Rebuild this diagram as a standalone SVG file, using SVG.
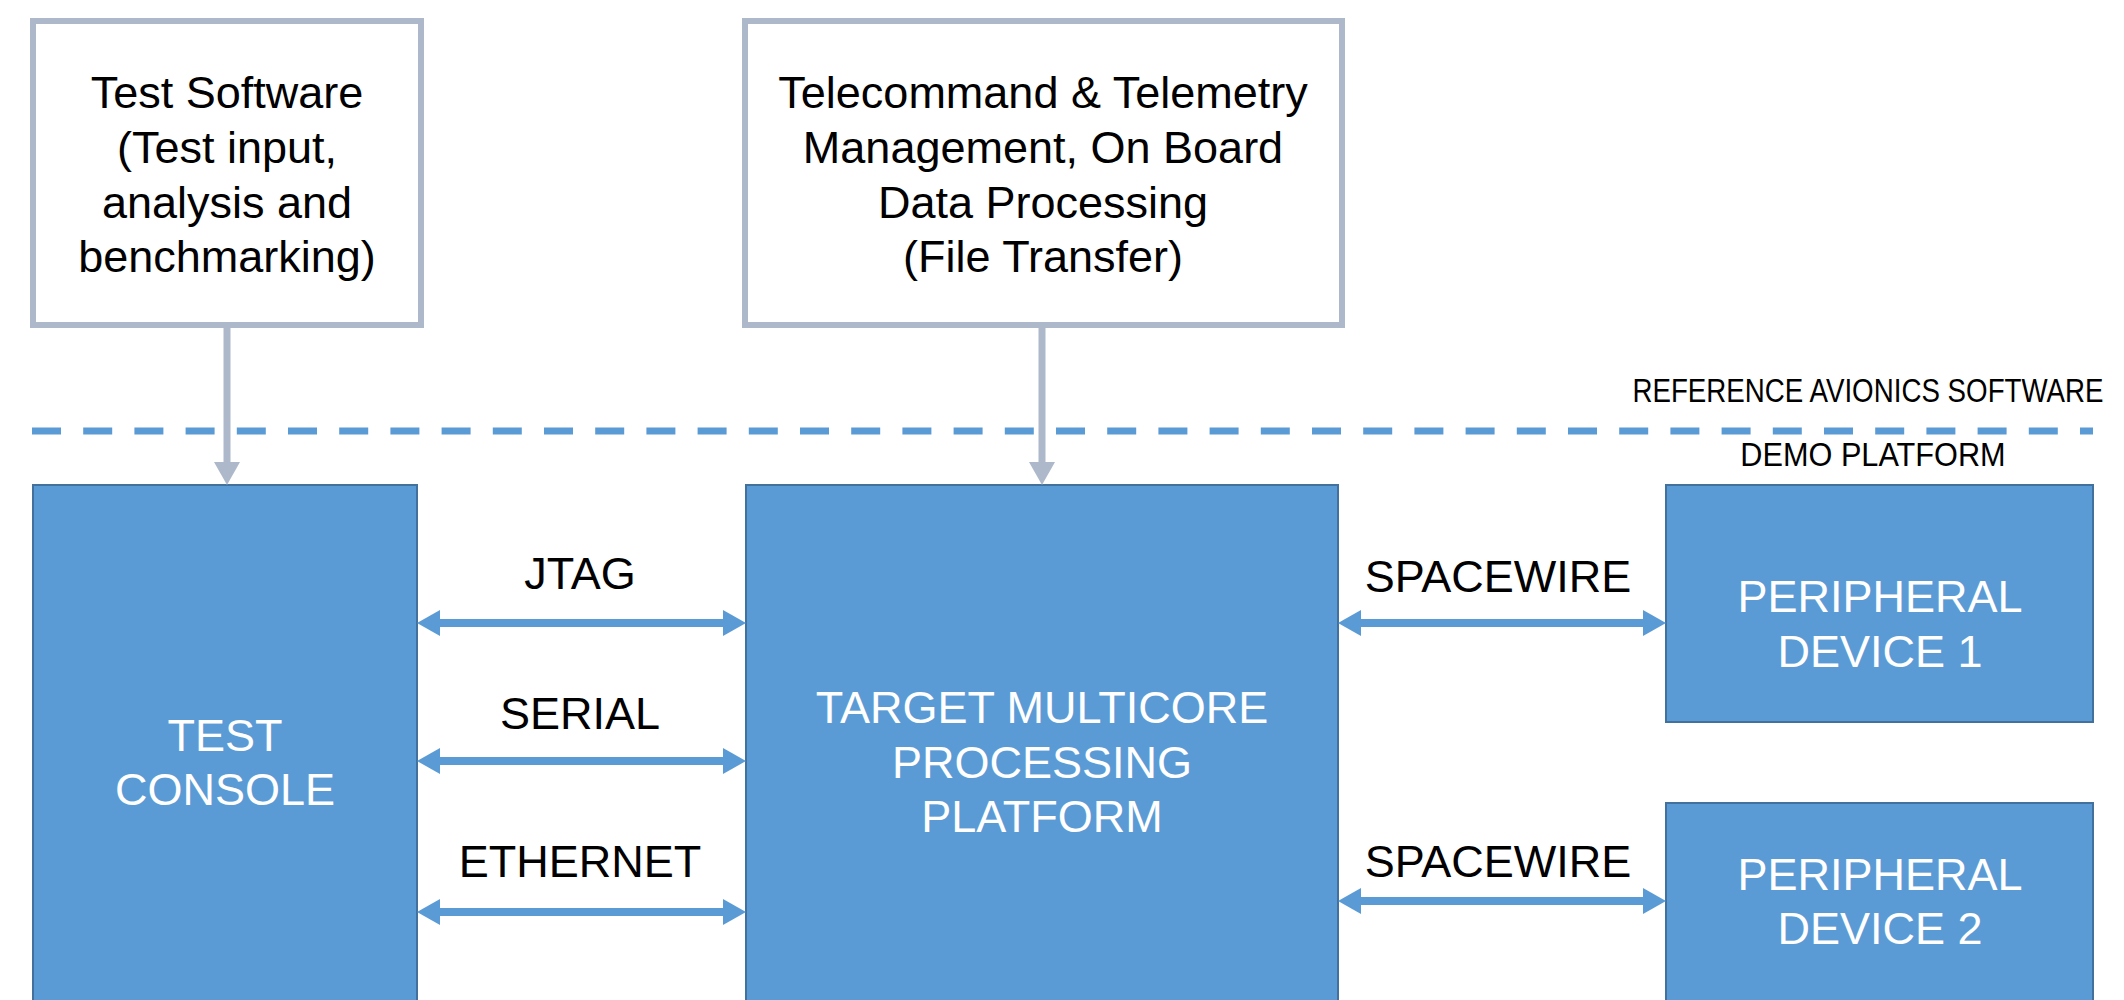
<svg xmlns="http://www.w3.org/2000/svg" width="2124" height="1000" viewBox="0 0 2124 1000">
<style>
.sw{fill:#fff;stroke:#ADB9CA;stroke-width:6}
.hw{fill:#5B9BD5;stroke:#41719C;stroke-width:2}
.bt{font-family:"Liberation Sans",Arial,sans-serif;font-size:45px;fill:#000;text-anchor:middle}
.wt{font-family:"Liberation Sans",Arial,sans-serif;font-size:45px;fill:#fff;text-anchor:middle}
.lt{font-family:"Liberation Sans",Arial,sans-serif;font-size:33px;fill:#000;text-anchor:middle}
.ga{stroke:#ADB9CA;stroke-width:7;fill:none}
.ba{stroke:#5B9BD5;stroke-width:8;fill:none}
</style>
<defs>
<marker id="gh" markerUnits="userSpaceOnUse" viewBox="0 0 23 26" markerWidth="23" markerHeight="26" refX="11" refY="13" orient="auto"><path d="M0,0 L23,13 L0,26 z" fill="#ADB9CA"/></marker>
<marker id="bh" markerUnits="userSpaceOnUse" viewBox="0 0 23 26" markerWidth="23" markerHeight="26" refX="11" refY="13" orient="auto-start-reverse"><path d="M0,0 L23,13 L0,26 z" fill="#5B9BD5"/></marker>
</defs>

<g id="test-software">
<rect class="sw" x="33" y="21" width="388" height="304"/>
<text class="bt" x="227" y="108">Test Software</text>
<text class="bt" x="227" y="163">(Test input,</text>
<text class="bt" x="227" y="218">analysis and</text>
<text class="bt" x="227" y="272">benchmarking)</text>
</g>

<g id="tc-tm">
<rect class="sw" x="745" y="21" width="597" height="304"/>
<text class="bt" x="1043" y="108">Telecommand &amp; Telemetry</text>
<text class="bt" x="1043" y="163">Management, On Board</text>
<text class="bt" x="1043" y="218">Data Processing</text>
<text class="bt" x="1043" y="272">(File Transfer)</text>
</g>

<g id="layer-divider">
<line x1="32" y1="431" x2="2093" y2="431" stroke="#5B9BD5" stroke-width="7" stroke-dasharray="29 22.2"/>
<text class="lt" transform="translate(1868,402) scale(0.84,1)">REFERENCE AVIONICS SOFTWARE</text>
<text class="lt" transform="translate(1873,466) scale(0.93,1)">DEMO PLATFORM</text>
</g>

<g id="test-console">
<rect class="hw" x="33" y="485" width="384" height="520"/>
<text class="wt" x="225" y="751">TEST</text>
<text class="wt" x="225" y="805">CONSOLE</text>
</g>

<g id="target-platform">
<rect class="hw" x="746" y="485" width="592" height="520"/>
<text class="wt" x="1042" y="723">TARGET MULTICORE</text>
<text class="wt" x="1042" y="778">PROCESSING</text>
<text class="wt" x="1042" y="832">PLATFORM</text>
</g>

<g id="peripheral-1">
<rect class="hw" x="1666" y="485" width="427" height="237"/>
<text class="wt" x="1880" y="612">PERIPHERAL</text>
<text class="wt" x="1880" y="667">DEVICE 1</text>
</g>

<g id="peripheral-2">
<rect class="hw" x="1666" y="803" width="427" height="210"/>
<text class="wt" x="1880" y="890">PERIPHERAL</text>
<text class="wt" x="1880" y="944">DEVICE 2</text>
</g>

<g id="connectors">
<line class="ga" x1="227" y1="325" x2="227" y2="473" marker-end="url(#gh)"/>
<line class="ga" x1="1042" y1="325" x2="1042" y2="473" marker-end="url(#gh)"/>
<line class="ba" x1="429" y1="623" x2="734" y2="623" marker-start="url(#bh)" marker-end="url(#bh)"/>
<line class="ba" x1="429" y1="761" x2="734" y2="761" marker-start="url(#bh)" marker-end="url(#bh)"/>
<line class="ba" x1="429" y1="912" x2="734" y2="912" marker-start="url(#bh)" marker-end="url(#bh)"/>
<line class="ba" x1="1350" y1="623" x2="1654" y2="623" marker-start="url(#bh)" marker-end="url(#bh)"/>
<line class="ba" x1="1350" y1="901" x2="1654" y2="901" marker-start="url(#bh)" marker-end="url(#bh)"/>
<text class="bt" x="580" y="589">JTAG</text>
<text class="bt" x="580" y="729">SERIAL</text>
<text class="bt" x="580" y="877">ETHERNET</text>
<text class="bt" x="1498" y="592">SPACEWIRE</text>
<text class="bt" x="1498" y="877">SPACEWIRE</text>
</g>
</svg>
